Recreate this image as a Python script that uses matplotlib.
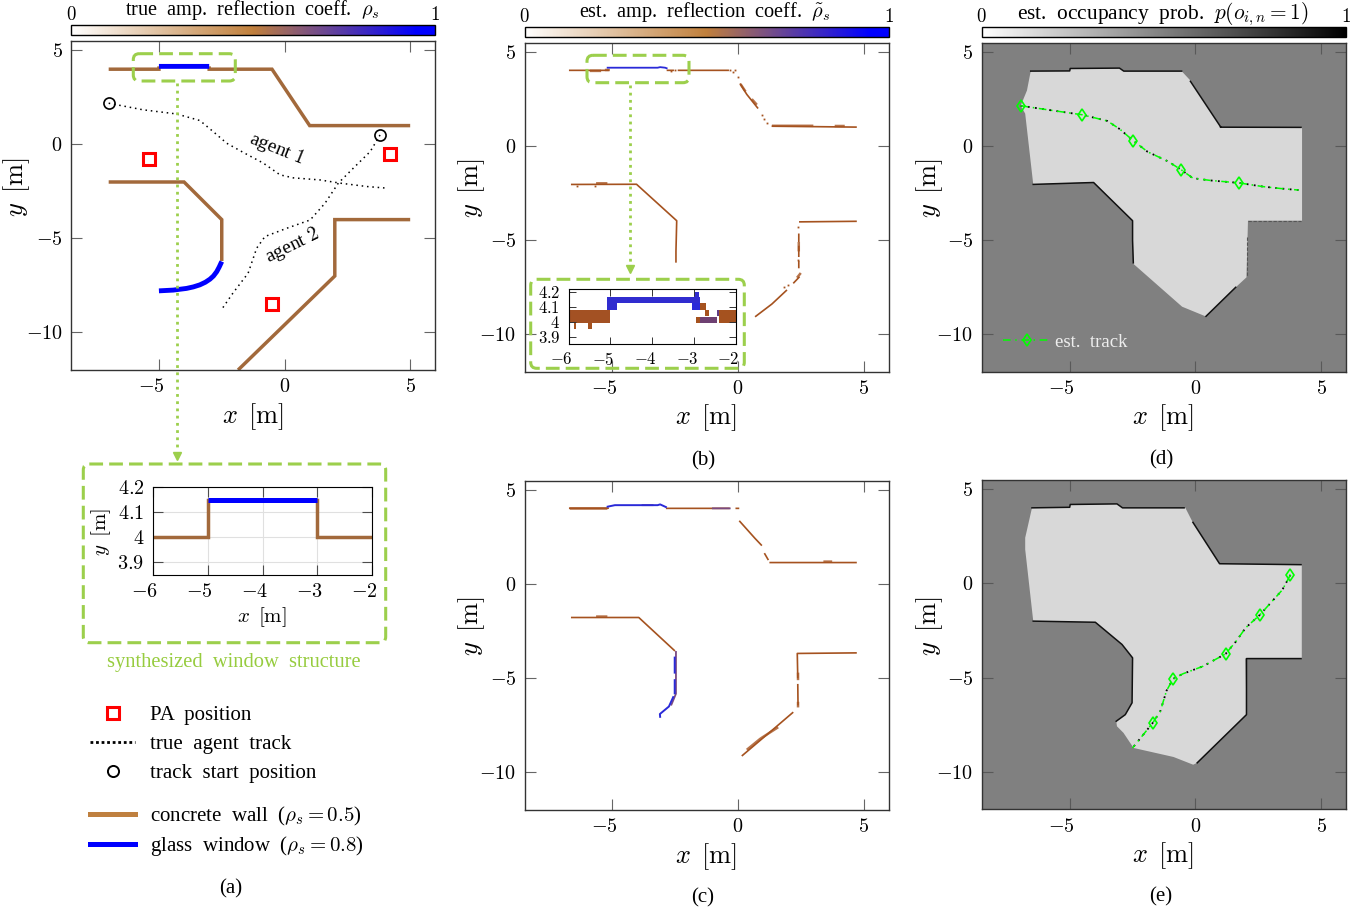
import numpy as np
import matplotlib
matplotlib.use('Agg')
import matplotlib.pyplot as plt
from matplotlib.colors import LinearSegmentedColormap
from matplotlib.cm import ScalarMappable
from matplotlib.lines import Line2D
from matplotlib.patches import FancyBboxPatch
from matplotlib.transforms import Affine2D, ScaledTranslation

plt.rcParams['font.family'] = ['Liberation Serif', 'DejaVu Serif']
plt.rcParams['mathtext.fontset'] = 'cm'

W, H = 1369, 907
nan = np.nan

# panel (a) walls
wall_x = [-7, -5, -5, nan, -3, -3, -0.5, 1, 5, nan, -7, -4, -2.5, -2.5, nan, 5, 2, 2, -1.85]
wall_y = [4, 4, 4.15, nan, 4.15, 4, 4, 1, 1, nan, -2, -2, -4, -6.2, nan, -4, -4, -7, -12]
window_x = [-5, -3, nan, -2.5, -2.6, -2.7, -2.83, -2.97, -3.15, -3.37, -3.63, -3.9, -4.43, -5]
window_y = [4.15, 4.15, nan, -6.23, -6.52, -6.77, -7.0, -7.17, -7.33, -7.47, -7.58, -7.66, -7.75, -7.79]
pa_x = [-5.4, 4.2, -0.5]
pa_y = [-0.8, -0.5, -8.5]

# agent tracks
agent1_x = [-7, -5.63, -4.3, -3.37, -2.84, -2.3, -1.64, -0.84, -0.18, 0.35, 1.41, 2.21, 3.27, 4.1]
agent1_y = [2.19, 1.84, 1.62, 1.27, 0.68, 0.06, -0.43, -1.0, -1.62, -1.78, -1.89, -2.06, -2.24, -2.33]
agent2_x = [3.8, 3.41, 2.74, 2.14, 1.61, 1.02, 0.09, -0.78, -1.11, -1.45, -2.05, -2.5]
agent2_y = [0.5, -0.38, -1.26, -2.06, -3.13, -4.02, -4.46, -4.9, -5.52, -6.85, -7.9, -8.77]

# estimated tracks
est1_x = [-6.95, -5.7, -4.5, -3.5, -3.0, -2.48, -1.9, -1.1, -0.56, -0.1, 0.6, 1.73, 2.7, 3.4, 4.1]
est1_y = [2.15, 1.9, 1.67, 1.34, 0.9, 0.3, -0.3, -0.8, -1.26, -1.7, -1.82, -1.95, -2.15, -2.25, -2.33]
est1_mx = [-6.95, -4.5, -2.48, -0.56, 1.73]
est1_my = [2.15, 1.67, 0.3, -1.26, -1.95]
est2_x = [3.78, 3.45, 2.56, 2.0, 1.6, 1.2, 0.3, -0.5, -0.89, -1.15, -1.4, -1.7, -2.5]
est2_y = [0.46, -0.35, -1.67, -2.35, -3.1, -3.74, -4.4, -4.8, -5.07, -5.7, -6.8, -7.41, -8.74]
est2_mx = [3.78, 2.56, 1.2, -0.89, -1.7]
est2_my = [0.46, -1.67, -3.74, -5.07, -7.41]

# panel (b) estimated reflection map
b_brown_x = [-6.73, -5.14, nan, -2.84, -2.55, nan, -2.4, -0.36, nan, 0.08, 0.35, 0.8, nan, 1.34, 4.73, nan,
             -6.65, -4.04, -2.44, -2.47, -2.47, nan, 4.73, 2.43, nan, 2.42, 2.42, nan, 2.42, 2.42, nan, 2.42, 2.42, nan,
             2.45, 2.2, nan, 1.95, 1.35, 0.68]
b_brown_y = [4.03, 4.03, nan, 4.03, 4.03, nan, 4.03, 4.03, nan, 3.33, 2.75, 2.0, nan, 1.06, 1.01, nan,
             -2.04, -2.03, -3.97, -5.6, -6.2, nan, -4.0, -4.03, nan, -4.65, -5.1, nan, -5.3, -5.9, nan, -6.1, -6.5, nan,
             -6.95, -7.3, nan, -7.65, -8.4, -9.08]
b_thick_x = [-5.9, -5.45, nan, -5.3, -5.1, nan, 0.1, 0.3, nan, 0.55, 0.75, nan, 1.35, 3.0, nan, 3.85, 4.25, nan, -5.65, -5.2, nan, 2.42, 2.42, nan, 2.5, 2.35]
b_thick_y = [4.0, 4.0, nan, 4.05, 4.05, nan, 3.3, 2.9, nan, 2.5, 2.2, nan, 1.08, 1.08, nan, 1.07, 1.07, nan, -1.98, -1.98, nan, -5.1, -5.6, nan, -6.75, -7.0]
b_blue_x = [-5.19, -3.2, -3.1, -2.9, -2.84]
b_blue_y = [4.17, 4.17, 4.2, 4.17, 4.14]
b_dot_x = [-0.3, -0.2, -0.12, 0.0, 0.95, 1.05, 1.15, -2.65, -2.5, -6.4, -5.7, 2.4, 2.4, 2.0, 1.85]
b_dot_y = [4.03, 3.95, 4.03, 3.7, 1.65, 1.45, 1.25, 4.0, 4.05, -2.12, -2.1, -4.3, -6.05, -7.4, -7.5]

# panel (c) estimated reflection map
c_brown_x = [-6.73, -5.14, nan, -2.87, -0.33, nan, -0.1, 0.05, nan, 0.05, 0.68, 0.95, nan, 1.05, 1.21, nan, 1.25, 4.73, nan,
             -6.65, -3.95, -2.51, nan, 4.73, 2.36, 2.38, nan, 2.38, 2.39, nan, 2.2, 1.5, 0.15]
c_brown_y = [4.04, 4.04, nan, 4.03, 4.03, nan, 4.03, 4.03, nan, 3.37, 2.43, 2.05, nan, 1.65, 1.28, nan, 1.15, 1.15, nan,
             -1.77, -1.77, -3.55, nan, -3.65, -3.68, -5.0, nan, -5.3, -6.44, nan, -6.8, -7.6, -9.13]
c_thick_x = [-6.7, -5.2, nan, -5.65, -5.2, nan, 3.4, 3.75, nan, 2.39, 2.39, nan, 2.39, 2.39, nan, 1.6, 0.9, nan, 0.9, 0.35]
c_thick_y = [4.02, 4.02, nan, -1.72, -1.72, nan, 1.2, 1.2, nan, -6.25, -6.55, nan, -4.7, -5.1, nan, -7.6, -8.2, nan, -8.2, -8.8]
c_purple_x = [-1.0, -0.33, nan, -2.47, -2.47, -2.65, nan, -3.8, -3.4]
c_purple_y = [4.03, 4.03, nan, -3.6, -5.82, -6.4, nan, 4.2, 4.2]
c_blue_x = [-5.19, -4.9, -3.2, -3.1, -2.87, nan, -2.52, -2.52, nan, -2.52, -2.52, nan, -2.58, -2.75, -3.11, -3.1]
c_blue_y = [4.12, 4.2, 4.2, 4.24, 4.1, nan, -3.9, -4.7, nan, -5.1, -5.8, nan, -6.0, -6.5, -6.9, -7.05]

# window insets
inset_a_x = [-6, -5, -5, nan, -3, -3, -2]
inset_a_y = [4, 4, 4.15, nan, 4.15, 4, 4]
blocks_x0 = [-6, -5.87, -5.53, -5.09, -5.09, -3.04, -3.0, -2.85, -2.79, -2.94, -2.85, -2.74, -2.45, -2.4]
blocks_x1 = [-5.01, -5.82, -5.45, -2.85, -4.85, -2.85, -2.88, -2.74, -2.72, -2.86, -2.45, -2.65, -2.4, -2]
blocks_y0 = [3.99, 3.95, 3.95, 4.122, 4.078, 4.078, 4.167, 4.078, 4.078, 3.99, 3.99, 4.035, 4.035, 3.99]
blocks_y1 = [4.078, 3.99, 3.99, 4.167, 4.122, 4.122, 4.2, 4.122, 4.122, 4.03, 4.03, 4.078, 4.078, 4.078]
blocks_val = [0.02, 0.0, 0.0, 0.95, 0.95, 1.0, 0.95, 0.0, 0.0, 0.0, 0.45, 0.0, 0.55, 0.0]

ticks_x = [-5, 0, 5]
ticks_y = [-10, -5, 0, 5]

# polygons of the free area
free_d_x = [-6.55, -5, -4.98, -3.02, -2.85, -0.55, -0.2, 1.02, 4.24, 4.24, 2.09, 2.03, 1.6, 0.4, -0.53, -2.47, -2.5, -4.05, -6.45, -6.77, -6.95, -6.7]
free_d_y = [3.99, 4, 4.13, 4.15, 3.99, 3.99, 3.49, 1.01, 1, -3.96, -3.96, -6.97, -7.5, -9.04, -8.53, -6.25, -3.96, -1.91, -2.03, 1.73, 2.15, 2.96]
edge_d_x = [-6.55, -5, -4.98, -3.02, -2.85, -0.55, nan, -0.2, 1.0, nan, 1.0, 4.2, nan, -6.45, -4.05, -2.5, -2.5, -2.47, nan, 0.42, 1.6]
edge_d_y = [3.99, 4, 4.13, 4.15, 3.99, 3.99, nan, 3.45, 1.03, nan, 1.01, 1.0, nan, -2.03, -1.93, -3.96, -5, -6.2, nan, -9.04, -7.5]
faint_d_x = [2.06, 2.06, nan, 2.1, 4.2]
faint_d_y = [-4.8, -6.9, nan, -3.98, -3.98]
free_e_x = [-6.5, -5, -4.98, -3.12, -2.9, -0.4, -0.13, 0.96, 4.23, 4.23, 1.99, 2.03, 0.07, -0.09, -0.87, -2.46, -2.86, -3.12, -3.15, -2.79, -2.52, -2.5, -2.92, -3.98, -6.45, -6.77, -6.77]
free_e_y = [4.02, 4.05, 4.2, 4.23, 4.02, 4.02, 3.31, 1.05, 1.0, -3.99, -3.99, -6.97, -9.53, -9.63, -9.22, -8.74, -7.94, -7.59, -7.32, -6.97, -6.34, -3.95, -3.24, -2.06, -2.0, 1.81, 2.43]
edge_e_x = [-6.5, -5, -4.98, -3.12, -2.9, -0.45, nan, -0.1, 0.96, 4.2, nan, -6.45, -3.98, -2.92, -2.5, -2.52, -2.79, -3.15, nan, 4.2, 2.03, 2.03, 0.07]
edge_e_y = [4.02, 4.05, 4.2, 4.23, 4.02, 4.02, nan, 3.25, 1.05, 1.0, nan, -2.0, -2.06, -3.24, -3.95, -6.34, -6.97, -7.32, nan, -3.99, -3.99, -6.97, -9.53]

cmap_rho = LinearSegmentedColormap.from_list('rho', [(0, '#ffffff'), (0.5, '#c07f3c'), (0.95, '#0000ff'), (1, '#0000ff')])
cmap_est = LinearSegmentedColormap.from_list('est', ['#a5521f', '#2a2ad8'])
BROWN = '#a2693b'
EST_BROWN = '#a5521f'
EST_BLUE = '#2a2ad8'
PURPLE = '#7a4a80'
GREEN = '#9ccf4c'

fig = plt.figure(figsize=(W / 100, H / 100), dpi=100)
pix = Affine2D().scale(1 / W, -1 / H).translate(0, 1) + fig.transFigure


def make_ax(l, t, r, b):
    return fig.add_axes([l / W, 1 - b / H, (r - l) / W, (b - t) / H])


def ptext(x, y, s, **kw):
    kw.setdefault('ha', 'center')
    kw.setdefault('va', 'center')
    return fig.text(x / W, 1 - y / H, s, **kw)


def shift_negative(ax, px):
    # the minus sign hangs out to the left of the tick
    off = ScaledTranslation(-px / 100, 0, fig.dpi_scale_trans)
    for lab in ax.get_xticklabels():
        if '-' in lab.get_text():
            lab.set_transform(lab.get_transform() + off)


def main_ax(l, t, r, b, cx, xlab_y, ylab_x, ylab_y):
    ax = make_ax(l, t, r, b)
    ax.set_xlim(-8.5, 6)
    ax.set_ylim(-12, 5.5)
    ax.set_xticks(ticks_x)
    ax.set_yticks(ticks_y)
    ax.set_xticklabels(['$%d$' % t_ for t_ in ticks_x], fontsize=14.5)
    ax.set_yticklabels(['$%d$' % t_ for t_ in ticks_y], fontsize=14.5)
    ax.tick_params(direction='in', length=7.6, width=0.8, color='0.4', top=True, right=True, pad=6)
    shift_negative(ax, 8)
    for sp in ax.spines.values():
        sp.set_color('0.2')
        sp.set_linewidth(1.0)
    ptext(cx, xlab_y + 2, r'$x\ \,\mathrm{[m]}$', fontsize=19)
    ptext(ylab_x, ylab_y, r'$y\ \,\mathrm{[m]}$', fontsize=19, rotation=90)
    return ax


def colorbar(l, t, r, b, cmap, title, title_x, title_y, num_y, title_size=14.6):
    cax = make_ax(l, t, r, b)
    fig.colorbar(ScalarMappable(cmap=cmap), cax=cax, orientation='horizontal')
    cax.set_xticks([])
    for sp in cax.spines.values():
        sp.set_color('black')
        sp.set_linewidth(1.0)
    ptext(title_x, title_y, title, fontsize=title_size)
    ptext(l, num_y, '$0$', fontsize=13.5)
    ptext(r, num_y, '$1$', fontsize=13.5)


def green_box(l, t, r, b, lw=2.2):
    box = FancyBboxPatch((l + 5, t + 5), r - l - 10, b - t - 10, boxstyle='round,pad=5,rounding_size=6',
                         transform=pix, fc='none', ec=GREEN, lw=lw, ls=(0, (4.5, 2)), zorder=20, clip_on=False)
    fig.add_artist(box)


def green_arrow(x, y0, y1):
    fig.add_artist(Line2D([x, x], [y0, y1 - 8], transform=pix, color=GREEN, lw=2.0, ls=(0, (1, 1.6)), zorder=20))
    fig.add_artist(Line2D([x], [y1 - 3], transform=pix, color=GREEN, marker='v', ms=6, ls='none', zorder=20))


def draw_blocks(ax):
    for x0, x1, y0, y1, v in zip(blocks_x0, blocks_x1, blocks_y0, blocks_y1, blocks_val):
        ax.bar(x0, y1 - y0, width=x1 - x0, bottom=y0, align='edge', color=cmap_est(v), lw=0)


def draw_track(ax, x, y, mx, my):
    ax.plot(x, y, color='black', lw=1.3, ls=(0, (1, 3)))
    ax.plot(x, y, color='#00ff00', lw=1.1, ls=(0, (5, 3, 1, 3)))
    ax.plot(mx, my, ls='none', marker='d', ms=6, mfc='none', mec='#00ff00', mew=1.2)


# (a)
ax = main_ax(71, 41, 435.3, 370, 253, 415, 17, 187)
ax.plot(wall_x, wall_y, color=BROWN, lw=2.5, solid_capstyle='butt', solid_joinstyle='miter')
ax.plot(window_x, window_y, color='#0000ff', lw=3.5, solid_capstyle='butt')
ax.plot(agent1_x, agent1_y, color='black', lw=1.1, ls=(0, (1, 2.5)))
ax.plot(agent2_x, agent2_y, color='black', lw=1.1, ls=(0, (1, 2.5)))
ax.plot([agent1_x[0], agent2_x[0]], [agent1_y[0], agent2_y[0]], ls='none', marker='o', ms=8, mfc='none', mec='black', mew=1.2)
ax.plot(pa_x, pa_y, ls='none', marker='s', ms=8, mfc='white', mec='#ff0000', mew=2.2, clip_on=False)
ax.text(-0.3, -0.24, 'agent $1$', fontsize=14, rotation=-22, ha='center', va='center')
ax.text(0.3, -5.35, 'agent $2$', fontsize=14, rotation=26, ha='center', va='center')
colorbar(71, 24.7, 435.3, 34.7, cmap_rho, r'true  amp.  reflection  coeff.  $\rho_s$', 252, 10, 15)

# window structure inset of (a)
ins = make_ax(152.7, 487.3, 372.3, 575)
ins.set_xlim(-6, -2)
ins.set_ylim(3.85, 4.2)
ins.grid(True, color='0.88', lw=0.8)
ins.set_axisbelow(True)
ins.plot(inset_a_x, inset_a_y, color=BROWN, lw=2.5, solid_joinstyle='miter')
ins.plot([-5, -3], [4.15, 4.15], color='#0000ff', lw=3.6, solid_capstyle='butt')
ins.set_xticks([-6, -5, -4, -3, -2])
ins.set_xticklabels(['$-6$', '$-5$', '$-4$', r'$\mathbf{-3}$', '$-2$'], fontsize=14.5)
ins.set_yticks([3.9, 4, 4.1, 4.2])
ins.set_yticklabels(['$3.9$', '$4$', '$4.1$', '$4.2$'], fontsize=14.5)
ins.tick_params(direction='in', length=7, width=0.8, color='0.3', top=True, right=True, pad=6)
shift_negative(ins, 8)
ptext(262, 617, r'$x\ \,\mathrm{[m]}$', fontsize=15)
ptext(101, 532, r'$y\ \,\mathrm{[m]}$', fontsize=15, rotation=90)
green_box(83.3, 464, 385.7, 642.7)
green_box(133.3, 53.7, 235.3, 81)
green_arrow(176.5, 83, 459)
ptext(234, 662, 'synthesized  window  structure', fontsize=14.8, color='#97cc3f')

# legends of (a)
h1 = [Line2D([], [], ls='none', marker='s', ms=9, mfc='white', mec='#ff0000', mew=2.2),
      Line2D([], [], color='black', lw=2, ls=(0, (1, 1))),
      Line2D([], [], ls='none', marker='o', ms=8, mfc='none', mec='black', mew=1.4)]
leg1 = fig.legend(h1, ['PA  position', 'true  agent  track', 'track  start  position'], loc='upper left',
                  bbox_to_anchor=(90 / W, 1 - 705.5 / H), frameon=False, fontsize=15, handlelength=2.16,
                  handletextpad=0.72, labelspacing=0.45, borderpad=0, borderaxespad=0)
h2 = [Line2D([], [], color='#bf803f', lw=3.6), Line2D([], [], color='#0000ff', lw=3.6)]
leg2 = fig.legend(h2, [r'concrete  wall  ($\rho_s=0.5$)', r'glass  window  ($\rho_s=0.8$)'], loc='upper left',
                  bbox_to_anchor=(90 / W, 1 - 805 / H), frameon=False, fontsize=15, handlelength=2.16,
                  handletextpad=0.72, labelspacing=0.3, borderpad=0, borderaxespad=0)
ptext(231, 888.5, '(a)', fontsize=15)

# (b)
ax = main_ax(524.5, 42.7, 888.7, 371.7, 706, 416, 472, 188)
ax.plot(b_brown_x, b_brown_y, color=EST_BROWN, lw=1.2, solid_capstyle='butt')
ax.plot(b_thick_x, b_thick_y, color=EST_BROWN, lw=1.8, alpha=0.8, solid_capstyle='butt')
ax.plot(b_blue_x, b_blue_y, color=EST_BLUE, lw=1.3)
ax.plot(b_dot_x, b_dot_y, ls='none', marker='s', ms=1.3, color=EST_BROWN, mew=0)
colorbar(524.5, 26.7, 888.7, 36.7, cmap_rho, r'est.  amp.  reflection  coeff.  $\tilde{\rho}_s$', 705, 12, 17)

ins = make_ax(568.7, 288.7, 735.7, 344)
ins.set_xlim(-6, -2)
ins.set_ylim(3.85, 4.22)
draw_blocks(ins)
ins.set_xticks([-6, -5, -4, -3, -2])
ins.set_xticklabels(['$-6$', '$-5$', '$-4$', r'$\mathbf{-3}$', '$-2$'], fontsize=12)
ins.set_yticks([3.9, 4, 4.1, 4.2])
ins.set_yticklabels(['$3.9$', '$4$', '$4.1$', '$4.2$'], fontsize=12)
ins.tick_params(direction='in', length=5, width=0.7, color='0.2', top=True, right=True, pad=6)
shift_negative(ins, 7)
green_box(530.7, 279.3, 744.3, 368.3)
green_box(587, 55.3, 689, 82.7)
green_arrow(630, 85, 272)
ptext(703, 460.5, '(b)', fontsize=15)

# (c)
ax = main_ax(524.5, 480.7, 888.7, 810, 706, 855, 472, 626)
ax.plot(c_brown_x, c_brown_y, color=EST_BROWN, lw=1.2, solid_capstyle='butt')
ax.plot(c_thick_x, c_thick_y, color=EST_BROWN, lw=1.8, alpha=0.8, solid_capstyle='butt')
ax.plot(c_purple_x, c_purple_y, color=PURPLE, lw=1.3)
ax.plot(c_blue_x, c_blue_y, color=EST_BLUE, lw=1.4)
ptext(703, 898, '(c)', fontsize=15)

# (d)
ax = main_ax(981.7, 42.7, 1346.3, 372, 1163, 416, 930, 188)
ax.set_facecolor('#808080')
ax.fill(free_d_x, free_d_y, color='#d8d8d8', lw=0)
ax.plot(edge_d_x, edge_d_y, color='#111111', lw=1.1)
ax.plot(faint_d_x, faint_d_y, color='#555555', lw=0.8, ls=(0, (3, 1.5)))
draw_track(ax, est1_x, est1_y, est1_mx, est1_my)
ax.tick_params(color='0.35')
leg_h = Line2D([], [], color='#00ff00', lw=1.1, ls=(0, (5, 3, 1, 3)), marker='d', ms=6, mfc='none', mew=1.2)
ax.legend([leg_h], ['est.  track'], loc='lower left', bbox_to_anchor=(21 / 364.6, 21 / 329.3), frameon=False,
          fontsize=13.5, labelcolor='#eeeeee', handlelength=2.6, handletextpad=0.2, borderpad=0, borderaxespad=0)
colorbar(981.7, 26.7, 1346.3, 36.7, plt.get_cmap('gray_r'), r'est.  occupancy  prob.  $p(o_{i,n}=1)$', 1163, 14, 17, title_size=15.4)
ptext(1161, 459.5, '(d)', fontsize=15)

# (e)
ax = main_ax(981.7, 480, 1346.3, 809.3, 1163, 854, 930, 626)
ax.set_facecolor('#808080')
ax.fill(free_e_x, free_e_y, color='#d8d8d8', lw=0)
ax.plot(edge_e_x, edge_e_y, color='#111111', lw=1.1)
draw_track(ax, est2_x, est2_y, est2_mx, est2_my)
ax.tick_params(color='0.35')
ptext(1161, 897, '(e)', fontsize=15)

fig.savefig('out.png', dpi=100)
